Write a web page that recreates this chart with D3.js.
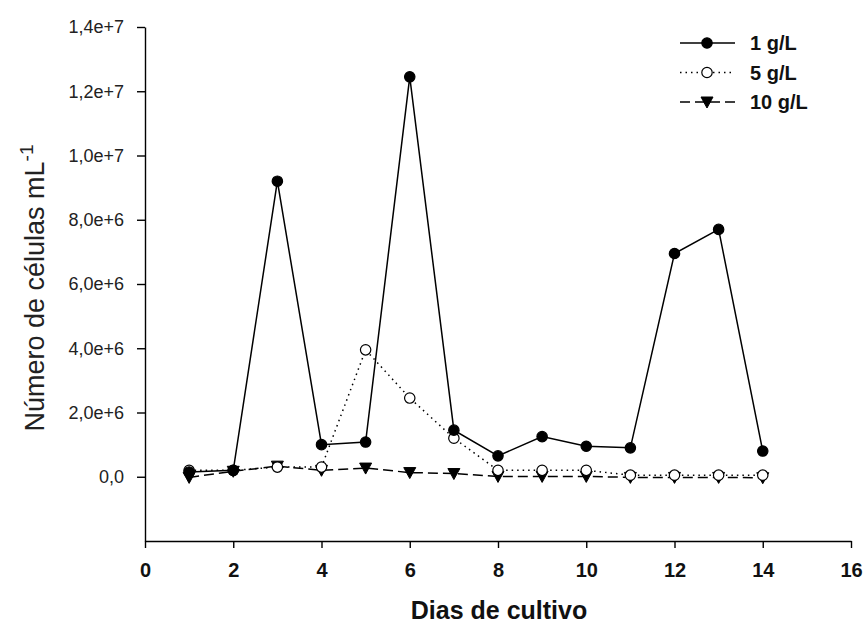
<!DOCTYPE html>
<html>
<head>
<meta charset="utf-8">
<style>
  body { margin: 0; background: #fff; }
  svg { font-family: "Liberation Sans", Arial, sans-serif; }
  .y .tick text { font-size: 18px; fill: #222; }
  .x .tick text { font-size: 20px; font-weight: bold; fill: #111; }
  .axis .domain, .axis .tick line { stroke: #000; stroke-width: 1.4px; }
</style>
</head>
<body>
<svg width="864" height="628"></svg>
<script src="https://d3js.org/d3.v7.min.js"></script>
<script>
// values
let days = [1, 2, 3, 4, 5, 6, 7, 8, 9, 10, 11, 12, 13, 14];
let g1 = [0.15e6, 0.2e6, 9.2e6, 1.0e6, 1.08e6, 12.45e6, 1.45e6, 0.65e6, 1.25e6, 0.95e6, 0.9e6, 6.95e6, 7.7e6, 0.8e6];
let g5 = [0.2e6, 0.2e6, 0.3e6, 0.3e6, 3.95e6, 2.45e6, 1.2e6, 0.2e6, 0.2e6, 0.2e6, 0.05e6, 0.05e6, 0.05e6, 0.05e6];
let g10 = [-0.02e6, 0.17e6, 0.33e6, 0.2e6, 0.27e6, 0.13e6, 0.1e6, 0.01e6, 0.01e6, 0.01e6, -0.02e6, -0.02e6, -0.02e6, -0.03e6];
let xTicks = [0, 2, 4, 6, 8, 10, 12, 14, 16];
let yTicks = [0, 2e6, 4e6, 6e6, 8e6, 10e6, 12e6, 14e6];
let seriesNames = ["1 g/L", "5 g/L", "10 g/L"];

let svg = d3.select("svg");
let margin = { top: 27, right: 13, bottom: 87, left: 145 };
let width = 864, height = 628;

let x = d3.scaleLinear().domain([0, 16]).range([margin.left, 851]);
let y = d3.scaleLinear().domain([-2e6, 14e6]).range([height - margin.bottom, margin.top]);

let fmt = d => {
  if (d === 0) return "0,0";
  let e = Math.floor(Math.log10(d));
  let m = d / Math.pow(10, e);
  return m.toFixed(1).replace(".", ",") + "e+" + e;
};

svg.append("g")
  .attr("class", "x axis")
  .attr("transform", `translate(0,${y(-2e6)})`)
  .call(d3.axisBottom(x).tickValues(xTicks).tickSize(7).tickSizeOuter(0).tickPadding(15).tickFormat(d3.format("d")));

svg.append("g")
  .attr("class", "y axis")
  .attr("transform", `translate(${margin.left},0)`)
  .call(d3.axisLeft(y).tickValues(yTicks).tickSize(8).tickSizeOuter(0).tickPadding(13).tickFormat(fmt));

// axis titles
svg.append("text")
  .attr("x", 499).attr("y", 619)
  .attr("text-anchor", "middle")
  .style("font-size", "25px").style("font-weight", "bold").style("fill", "#111")
  .text("Dias de cultivo");

let yt = svg.append("text")
  .attr("transform", "translate(44,288) rotate(-90)")
  .attr("text-anchor", "middle")
  .style("font-size", "27px").style("fill", "#222");
yt.append("tspan").text("Número de células mL");
yt.append("tspan").attr("dy", -11).style("font-size", "19px").text("-1");

let series = [
  { name: seriesNames[0], vals: g1, dash: null, marker: "circle", fill: "#000" },
  { name: seriesNames[1], vals: g5, dash: "1.5,4", marker: "circle", fill: "#fff" },
  { name: seriesNames[2], vals: g10, dash: "10,5", marker: "tri", fill: "#000" }
];

let line = d3.line().x(d => x(d[0])).y(d => y(d[1]));

function drawMarker(g, s, cx, cy) {
  if (s.marker === "circle") {
    g.append("circle").attr("cx", cx).attr("cy", cy).attr("r", 5.2)
      .attr("fill", s.fill).attr("stroke", "#000").attr("stroke-width", 1.2);
  } else {
    g.append("path")
      .attr("d", `M${cx - 6},${cy - 5}L${cx + 6},${cy - 5}L${cx},${cy + 6}Z`)
      .attr("fill", s.fill).attr("stroke", "#000").attr("stroke-width", 1);
  }
}

// draw order: 10 g/L, 5 g/L, 1 g/L on top
[series[2], series[1], series[0]].forEach(s => {
  let pts = days.map((d, i) => [d, s.vals[i]]);
  let g = svg.append("g");
  g.append("path").datum(pts)
    .attr("d", line)
    .attr("fill", "none")
    .attr("stroke", "#000")
    .attr("stroke-width", 1.5)
    .attr("stroke-dasharray", s.dash);
  pts.forEach(p => drawMarker(g, s, x(p[0]), y(p[1])));
});

// legend
let leg = svg.append("g");
series.forEach((s, i) => {
  let ly = 43 + i * 29.5;
  leg.append("line").attr("x1", 680).attr("x2", 735).attr("y1", ly).attr("y2", ly)
    .attr("stroke", "#000").attr("stroke-width", 1.5).attr("stroke-dasharray", s.dash);
  drawMarker(leg, s, 707, ly);
  leg.append("text").attr("x", 750).attr("y", ly + 7)
    .style("font-size", "20px").style("font-weight", "bold").style("fill", "#111")
    .text(s.name);
});
</script>
</body>
</html>
